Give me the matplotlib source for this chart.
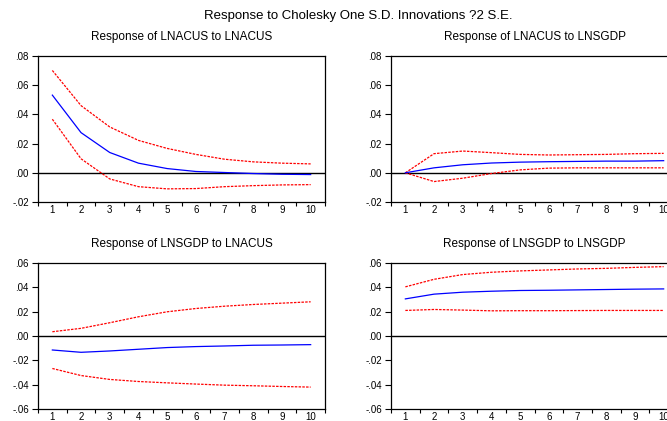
import matplotlib
matplotlib.use("Agg")
import matplotlib.pyplot as plt
from matplotlib.ticker import FixedLocator, FuncFormatter

plt.rcParams['font.family'] = ['Liberation Sans', 'DejaVu Sans']

periods = [1, 2, 3, 4, 5, 6, 7, 8, 9, 10]

# Response of LNACUS to LNACUS
acus_acus = [0.0532, 0.0275, 0.0139, 0.0066, 0.0029, 0.0009, 0.0002, -0.0005, -0.0010, -0.0012]
acus_acus_hi = [0.0701, 0.0460, 0.0314, 0.0222, 0.0167, 0.0126, 0.0093, 0.0075, 0.0066, 0.0061]
acus_acus_lo = [0.0367, 0.0096, -0.0042, -0.0095, -0.0110, -0.0108, -0.0095, -0.0088, -0.0083, -0.0081]

# Response of LNACUS to LNSGDP
acus_sgdp = [0.0, 0.0034, 0.0055, 0.0067, 0.0073, 0.0076, 0.0078, 0.0080, 0.0080, 0.0083]
acus_sgdp_hi = [0.0, 0.0131, 0.0149, 0.0138, 0.0126, 0.0122, 0.0124, 0.0126, 0.0131, 0.0133]
acus_sgdp_lo = [0.0, -0.0060, -0.0037, -0.0005, 0.0020, 0.0032, 0.0034, 0.0034, 0.0034, 0.0034]

# Response of LNSGDP to LNACUS
sgdp_acus = [-0.0115, -0.0134, -0.0123, -0.0109, -0.0095, -0.0087, -0.0082, -0.0076, -0.0074, -0.0071]
sgdp_acus_hi = [0.0035, 0.0063, 0.0109, 0.0158, 0.0199, 0.0226, 0.0245, 0.0259, 0.0270, 0.0281]
sgdp_acus_lo = [-0.0267, -0.0325, -0.0357, -0.0374, -0.0385, -0.0395, -0.0404, -0.0409, -0.0415, -0.0420]

# Response of LNSGDP to LNSGDP
sgdp_sgdp = [0.0305, 0.0344, 0.0360, 0.0368, 0.0374, 0.0376, 0.0379, 0.0382, 0.0385, 0.0387]
sgdp_sgdp_hi = [0.0404, 0.0466, 0.0505, 0.0524, 0.0535, 0.0543, 0.0551, 0.0556, 0.0564, 0.0570]
sgdp_sgdp_lo = [0.0210, 0.0218, 0.0213, 0.0207, 0.0208, 0.0208, 0.0209, 0.0210, 0.0210, 0.0210]

titles = ["Response of LNACUS to LNACUS", "Response of LNACUS to LNSGDP",
          "Response of LNSGDP to LNACUS", "Response of LNSGDP to LNSGDP"]
top_yticks = [-0.02, 0.00, 0.02, 0.04, 0.06, 0.08]
bot_yticks = [-0.06, -0.04, -0.02, 0.00, 0.02, 0.04, 0.06]

W, H = 667, 421
fig = plt.figure(figsize=(W / 100, H / 100), dpi=100)

def rect(l, t, r, b):
    return [l / W, 1 - b / H, (r - l) / W, (b - t) / H]

panels = [
    (rect(38, 56, 325, 202), acus_acus, acus_acus_hi, acus_acus_lo, top_yticks, titles[0]),
    (rect(391, 56, 678, 202), acus_sgdp, acus_sgdp_hi, acus_sgdp_lo, top_yticks, titles[1]),
    (rect(38, 263, 325, 409), sgdp_acus, sgdp_acus_hi, sgdp_acus_lo, bot_yticks, titles[2]),
    (rect(391, 263, 678, 409), sgdp_sgdp, sgdp_sgdp_hi, sgdp_sgdp_lo, bot_yticks, titles[3]),
]

def fmt(v, pos):
    s = "%.2f" % v
    if s.startswith("0."):
        s = s[1:]
    elif s.startswith("-0."):
        s = "-" + s[2:]
    return s

for r, mid, hi, lo, yt, title in panels:
    ax = fig.add_axes(r)
    ax.axhline(0, color='black', lw=1.0)
    ax.plot(periods, hi, color='red', lw=0.9, dashes=(2, 1))
    ax.plot(periods, lo, color='red', lw=0.9, dashes=(2, 1))
    ax.plot(periods, mid, color='blue', lw=0.9)
    ax.set_xlim(0.5, 10.5)
    ax.set_ylim(yt[0], yt[-1])
    ax.set_yticks(yt)
    ax.yaxis.set_major_formatter(FuncFormatter(fmt))
    ax.xaxis.set_major_locator(FixedLocator([p + 0.5 for p in [0] + periods]))
    ax.xaxis.set_major_formatter(FuncFormatter(lambda v, p: ""))
    ax.xaxis.set_minor_locator(FixedLocator(periods))
    ax.xaxis.set_minor_formatter(FuncFormatter(lambda v, p: "%d" % round(v)))
    ax.tick_params(axis='x', which='major', direction='out', length=3, width=0.8)
    ax.tick_params(axis='x', which='minor', length=0, labelsize=7, pad=2.5)
    ax.tick_params(axis='y', direction='out', length=4, width=0.8, labelsize=7, pad=2.5)
    for s in ax.spines.values():
        s.set_linewidth(0.9)
    ax.set_title(title, fontsize=8.5, pad=11.5)

fig.text(358 / W, 1 - 16 / H,
         "Response to Cholesky One S.D. Innovations ?2 S.E.",
         ha='center', va='center', fontsize=9.5)

fig.savefig("out.png", dpi=100)
